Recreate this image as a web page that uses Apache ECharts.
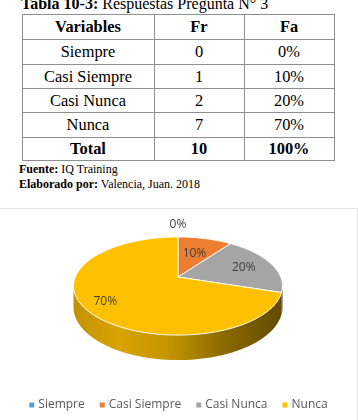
<!DOCTYPE html>
<html>
<head>
<meta charset="utf-8">
<script src="https://cdn.jsdelivr.net/npm/echarts@6/dist/echarts.min.js"></script>
<style>
  html, body { margin:0; padding:0; background:#fff; width:358px; height:420px; overflow:hidden; }
  #page { position:relative; width:358px; height:420px; font-family:"Liberation Serif","Times New Roman",serif; color:#000; }
  .t { position:absolute; white-space:nowrap; }
  .cell { position:absolute; box-sizing:border-box; text-align:center; font-size:16.4px; }
  .hl { position:absolute; background:#8f8f8f; height:1px; }
  .vl { position:absolute; background:#8f8f8f; width:1px; }
  #box { position:absolute; left:0; top:208px; width:357px; height:212px; border-top:1px solid #e4e4e4; border-right:1px solid #e4e4e4; }
  #chart { width:357px; height:212px; }
</style>
</head>
<body>
<div id="page">
  <div class="t" style="left:21px; top:-4px; font-size:16px; line-height:16px;"><b>Tabla 10-3:</b> Respuestas Pregunta N° 3</div>
  <div id="table"></div>
  <div class="t" style="left:19px; top:162px; font-size:12px; line-height:14px;"><b>Fuente:</b> IQ Training</div>
  <div class="t" style="left:19px; top:177px; font-size:12px; line-height:14px;"><b>Elaborado por:</b> Valencia, Juan. 2018</div>
  <div id="box"><div id="chart"></div></div>
</div>
<script>
// ---- data ----
const headers = ['Variables', 'Fr', 'Fa'];
const categories = ['Siempre', 'Casi Siempre', 'Casi Nunca', 'Nunca'];
const frecuencias = [0, 1, 2, 7];
const porcentajes = ['0%', '10%', '20%', '70%'];
const totalRow = ['Total', '10', '100%'];
const pieValues = [0, 10, 20, 70];

// ---- styles / layout ----
const colors = ['#5B9BD5', '#ED7D31', '#A5A5A5', '#FFC000'];
const colX = [22, 154, 244, 334];
const rowY = [14, 39, 64, 88, 112, 137, 160];
const labelRadius = [1.4, 0.57, 0.7, 0.8];

// build table
(function () {
  const t = document.getElementById('table');
  const rows = [headers];
  categories.forEach((c, i) => rows.push([c, String(frecuencias[i]), porcentajes[i]]));
  rows.push(totalRow);
  let html = '';
  rows.forEach((r, ri) => {
    const bold = ri === 0 || ri === rows.length - 1;
    r.forEach((txt, ci) => {
      const h = rowY[ri + 1] - rowY[ri];
      html += '<div class="cell" style="left:' + colX[ci] + 'px;top:' + rowY[ri] + 'px;width:' + (colX[ci + 1] - colX[ci]) +
        'px;height:' + h + 'px;line-height:' + (h + 1) + 'px;font-weight:' + (bold ? 'bold' : 'normal') + '">' + txt + '</div>';
    });
  });
  rowY.forEach(y => { html += '<div class="hl" style="left:' + colX[0] + 'px;top:' + y + 'px;width:' + (colX[3] - colX[0] + 1) + 'px"></div>'; });
  colX.forEach(x => { html += '<div class="vl" style="left:' + x + 'px;top:' + rowY[0] + 'px;height:' + (rowY[6] - rowY[0]) + 'px"></div>'; });
  t.innerHTML = html;
})();

// ---- 3D pie geometry ----
const CX = 178, CY = 68;      // apex in chart coords
const R = 102.7;              // radius
const K = 0.184;              // perspective factor
const A = 47.4;               // vertical semi-axis (no perspective)
const H = 20.4;               // thickness
const total = pieValues.reduce((s, v) => s + v, 0);
const TH1 = Math.acos(-K) * 180 / Math.PI;
const TH2 = 360 - TH1;
const XMAX = R / Math.sqrt(1 - K * K);

function proj(deg, rho) {
  const t = deg * Math.PI / 180;
  const X = rho * Math.sin(t), Z = rho * Math.cos(t);
  const f = 1 + K * Z / R;
  return [CX + X / f, CY - (A / R) * Z / f, f];
}
function rim(deg, bottom) {
  const p = proj(deg, R);
  return [p[0], p[1] + (bottom ? H / p[2] : 0)];
}
function arc(a, b, bottom) {
  const pts = [];
  const n = Math.max(2, Math.ceil(Math.abs(b - a)));
  for (let i = 0; i <= n; i++) pts.push(rim(a + (b - a) * i / n, bottom));
  return pts;
}
function shade(hex, s) {
  const n = parseInt(hex.slice(1), 16);
  const r = Math.round(((n >> 16) & 255) * s), g = Math.round(((n >> 8) & 255) * s), b = Math.round((n & 255) * s);
  return 'rgb(' + r + ',' + g + ',' + b + ')';
}
function sideFill(hex) {
  return new echarts.graphic.LinearGradient(CX - XMAX, 0, CX + XMAX, 0, [
    { offset: 0, color: shade(hex, 0.76) },
    { offset: 0.22, color: shade(hex, 0.85) },
    { offset: 0.46, color: shade(hex, 0.77) },
    { offset: 0.7, color: shade(hex, 0.56) },
    { offset: 1, color: shade(hex, 0.38) }
  ], true);
}

function renderSlice(params, api) {
  const idx = params.seriesIndex;
  const v = api.value(0);
  let before = 0;
  for (let i = 0; i < idx; i++) before += pieValues[i];
  const a0 = before / total * 360;
  const a1 = a0 + v / total * 360;
  const children = [];
  if (a1 > a0) {
    const top = [[CX, CY]].concat(arc(a0, a1, false));
    children.push({ type: 'polygon', z2: 2, shape: { points: top },
      style: { fill: colors[idx], stroke: 'rgba(255,255,255,0.95)', lineWidth: 1, lineJoin: 'round' } });
    const s0 = Math.max(a0, TH1), s1 = Math.min(a1, TH2);
    if (s1 > s0) {
      const side = arc(s0, s1, false).concat(arc(s1, s0, true));
      children.push({ type: 'polygon', z2: 1, shape: { points: side },
        style: { fill: sideFill(colors[idx]), stroke: null } });
    }
  }
  const mid = (a0 + a1) / 2;
  const lp = proj(mid, R * labelRadius[idx]);
  children.push({ type: 'text', z2: 10, x: lp[0], y: lp[1],
    style: { text: Math.round(v / total * 100) + '%', fill: '#404040', font: '12px "Open Sans", sans-serif',
      align: 'center', verticalAlign: 'middle' } });
  return { type: 'group', children: children };
}

const chart = echarts.init(document.getElementById('chart'), null, { renderer: 'canvas' });
chart.setOption({
  animation: false,
  legend: {
    data: categories,
    bottom: 5,
    left: 'center',
    icon: 'rect',
    itemWidth: 5,
    itemHeight: 5,
    itemGap: 15,
    textStyle: { fontFamily: '"Open Sans", sans-serif', fontSize: 12, color: '#595959', padding: [0, 0, 0, -1] }
  },
  series: categories.map((c, i) => ({
    type: 'custom',
    name: c,
    coordinateSystem: 'none',
    itemStyle: { color: colors[i] },
    renderItem: renderSlice,
    data: [[pieValues[i]]]
  }))
});
</script>
</body>
</html>
